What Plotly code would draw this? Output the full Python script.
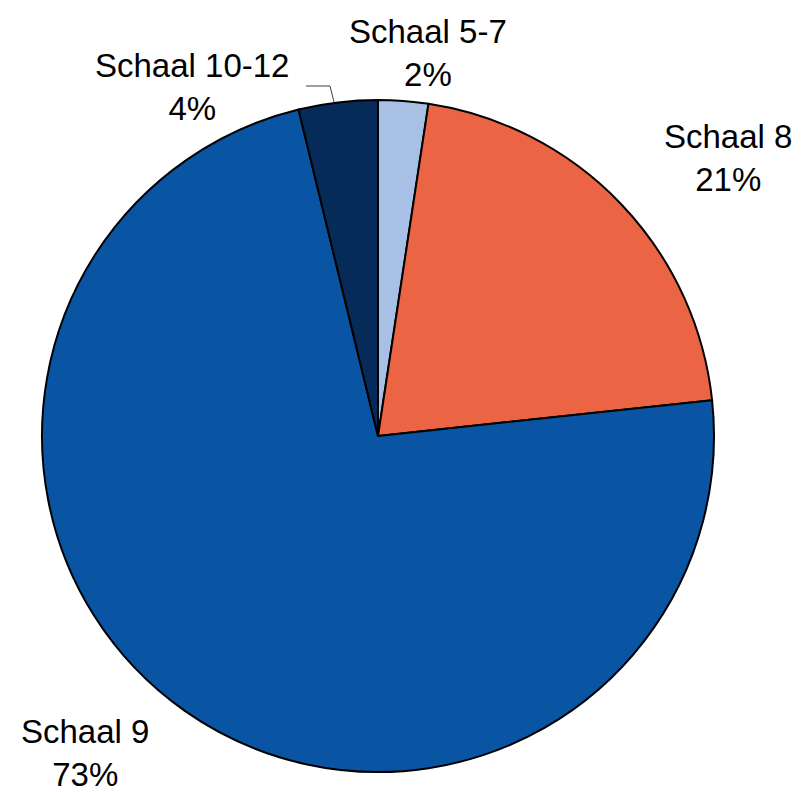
import plotly.graph_objects as go

labels = ["Schaal 5-7", "Schaal 8", "Schaal 9", "Schaal 10-12"]
values = [2.4, 20.9, 72.9, 3.8]
colors = ["#A8C0E6", "#EB6443", "#0A54A4", "#062B59"]

W, H = 803, 792
cx, cy, r = 378, 436, 336

fig = go.Figure(go.Pie(
    labels=labels, values=values, sort=False, direction="clockwise", rotation=0,
    marker=dict(colors=colors, line=dict(color="black", width=2)),
    textinfo="none", hoverinfo="label+percent", showlegend=False,
    domain=dict(x=[(cx - r) / W, (cx + r) / W], y=[1 - (cy + r) / H, 1 - (cy - r) / H]),
))

total = sum(values)
pct = [round(v / total * 100) for v in values]
label_pos = [(428, 53), (728, 158), (85, 753), (192, 87)]
for lab, p, (px, py) in zip(labels, pct, label_pos):
    fig.add_annotation(x=px / W, y=1 - py / H, xref="paper", yref="paper",
                       xanchor="center", yanchor="middle",
                       text=f"{lab}<br>{p}%", showarrow=False, align="center",
                       font=dict(family="Liberation Sans, Arial", size=33, color="black"))

pts = [(306, 86), (330, 86), (334, 102)]
path = "M " + " L ".join(f"{x / W},{1 - y / H}" for x, y in pts)
fig.add_shape(type="path", path=path, xref="paper", yref="paper",
              line=dict(color="#404040", width=1))

fig.update_layout(width=W, height=H, margin=dict(l=0, r=0, t=0, b=0),
                  paper_bgcolor="white", plot_bgcolor="white")
fig.write_html("out.html", config={"displayModeBar": False},
               post_script="document.body.style.margin='0';")
